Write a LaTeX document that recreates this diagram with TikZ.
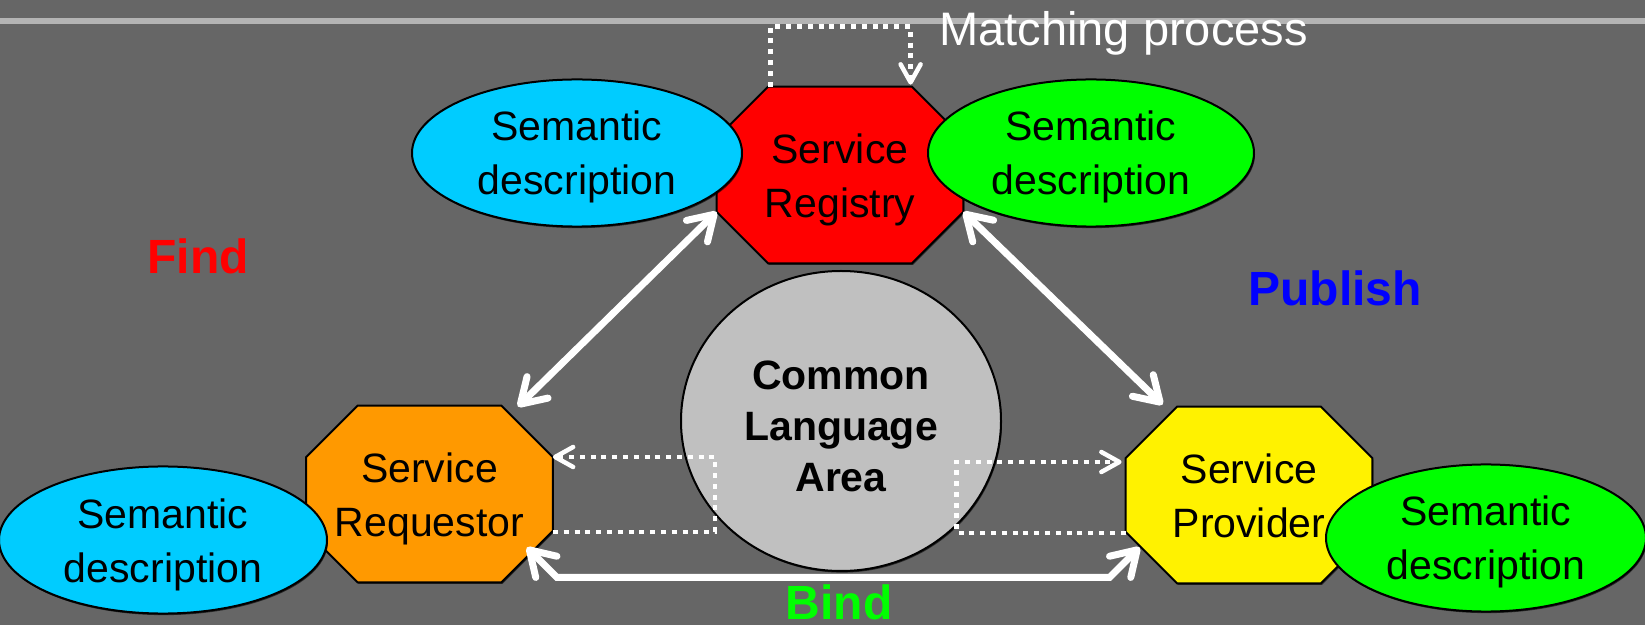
\documentclass[tikz,border=0pt]{standalone}
\usepackage{fontspec}
\setmainfont{Liberation Sans}
\usetikzlibrary{arrows.meta,calc,shadows,shapes.geometric}

\definecolor{slate}{HTML}{666666}
\definecolor{band}{HTML}{B4B4B4}
\definecolor{sky}{HTML}{00CCFF}
\definecolor{lime}{HTML}{00FF00}
\definecolor{amber}{HTML}{FF9900}
\definecolor{silverfill}{HTML}{C0C0C0}

\pgfdeclarelayer{bg}
\pgfsetlayers{bg,main}

% multi-line node boxes sit on their last baseline, so the fixed
% text height/depth below are measured from that line
\tikzset{
  barb/.tip={Straight Barb[length=12pt,width=15pt,line cap=round,line join=round]},
  smallbarb/.tip={Straight Barb[length=9pt,width=10pt,line cap=round,line join=round]},
  softshadow/.style={drop shadow={shadow xshift=0.5pt,shadow yshift=-0.8pt,opacity=0.6,fill=black}},
  bodytext/.style={font=\fontsize{20.5}{27}\selectfont},
  octslot/.style={rectangle,inner sep=0pt,minimum width=123pt,minimum height=88pt,
    align=center,bodytext,text height=47.5pt,text depth=5pt},
  desc/.style={ellipse,draw=black,line width=1pt,inner sep=0pt,minimum height=65pt,
    align=center,bodytext,text height=47pt,text depth=5pt,softshadow},
  hub/.style={ellipse,draw=black,line width=1pt,inner sep=0pt,fill=silverfill,
    align=center,font=\fontsize{20.5}{25.5}\selectfont\bfseries,
    text height=76pt,text depth=5pt,softshadow},
  role/.style={font=\fontsize{24}{28}\selectfont\bfseries,anchor=base,inner sep=0pt},
  bigarrow/.style={draw=white,line width=3.5pt,barb-barb},
  dotarrow/.style={draw=white,line width=2.25pt,dash pattern=on 2.5pt off 2.9pt,-smallbarb},
}

% octagon body behind a named node: corners cut by 25.75pt
\newcommand\octbody[2]{%
  \begin{pgfonlayer}{bg}
    \draw[line width=1pt,fill=#2,softshadow]
      ($(#1.north west)+(25.75pt,0)$) -- ($(#1.north east)+(-25.75pt,0)$)
      -- ($(#1.north east)+(0,-25.75pt)$) -- ($(#1.south east)+(0,25.75pt)$)
      -- ($(#1.south east)+(-25.75pt,0)$) -- ($(#1.south west)+(25.75pt,0)$)
      -- ($(#1.south west)+(0,25.75pt)$) -- ($(#1.north west)+(0,-25.75pt)$)
      -- cycle;
  \end{pgfonlayer}}

\begin{document}
\begin{tikzpicture}[x=0.5pt,y=-0.5pt]
  \useasboundingbox (0,0) rectangle (1645,625);
  \begin{pgfonlayer}{bg}
    \fill[slate] (0,0) rectangle (1645,625);
    \fill[band] (0,18) rectangle (1645,24);
  \end{pgfonlayer}

  % the three parties
  \node[octslot] (reg)  at (840,175)   {Service\\Registry};
  \node[octslot] (req)  at (429.5,494) {Service\\Requestor};
  \node[octslot] (prov) at (1249,495)  {Service\\Provider};
  \octbody{reg}{red}
  \octbody{req}{amber}
  \octbody{prov}{yellow}

  % semantic descriptions
  \node[desc,fill=sky,minimum width=165pt]  (regL)  at (577,153)  {Semantic\\description};
  \node[desc,fill=lime,minimum width=163pt] (regR)  at (1091,153) {Semantic\\description};
  \node[desc,fill=sky,minimum width=164pt]  (reqD)  at (163,540)  {Semantic\\description};
  \node[desc,fill=lime,minimum width=160pt] (provD) at (1486,538) {Semantic\\description};

  % shared vocabulary in the middle
  \node[hub,minimum width=160pt,minimum height=150pt] (cla) at (841,421)
    {Common\\Language\\Area};

  % role labels
  \node[role,text=red]  (find)    at (198,274)  {Find};
  \node[role,text=blue] (publish) at (1335,306) {Publish};
  \node[role,text=lime] (bind)    at (839,619)  {Bind};
  \node[font=\fontsize{23.5}{28}\selectfont,text=white,anchor=base west,inner sep=0pt]
    (match) at (939,46) {Matching process};

  % find / publish / bind
  \draw[bigarrow] ($(reg.south west)+(0,25.75pt)$) -- ($(req.north east)+(-17.5pt,-0.5pt)$);
  \draw[bigarrow] ($(reg.south east)+(0,25.75pt)$) -- ($(prov.north west)+(18.5pt,1pt)$);
  \draw[bigarrow] ($(req.south east)+(-13pt,17.5pt)$) -- ++(15pt,-15pt)
    -- ($(prov.south west)+(-8pt,3pt)$) -- ($(prov.south west)+(7pt,18pt)$);

  % matching loop on the registry
  \draw[dotarrow] ($(reg.north west)+(27pt,0)$) -- ++(0,30pt) -- ++(70pt,0)
    -- ($(reg.north west)+(97pt,1pt)$);

  % translation through the common language area
  \draw[dotarrow] ($(req.east)+(0,-19pt)$) -- ++(81pt,0) -- ++(0,37.5pt)
    -- ($(req.east)+(0,18.5pt)$);
  \draw[dotarrow] ($(prov.west)+(0,-19pt)$) -- ++(-84.5pt,0) -- ++(0,35.5pt)
    -- ($(prov.west)+(-2pt,16.5pt)$);
\end{tikzpicture}
\end{document}
